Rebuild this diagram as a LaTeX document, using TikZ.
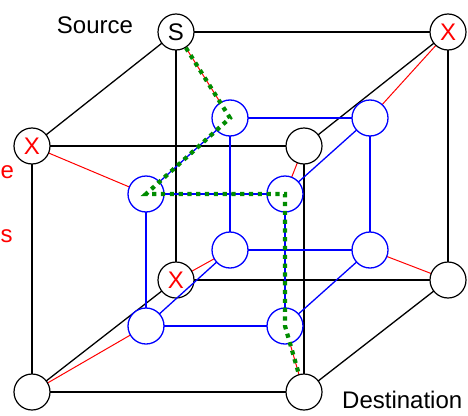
\documentclass[tikz,border=0pt]{standalone}
\usepackage{fontspec}
\setmainfont{Liberation Sans}
\definecolor{pathgreen}{RGB}{0,140,0}
\definecolor{linkred}{RGB}{255,0,0}
\definecolor{meshblue}{RGB}{0,0,255}
\begin{document}
\begin{tikzpicture}[x=1pt,y=-1pt,
  every node/.style={font=\fontsize{24}{28}\selectfont},
  outer/.style={circle,draw=black,line width=1.2pt,fill=white,minimum size=36pt,inner sep=0pt},
  inner/.style={circle,draw=meshblue,line width=1.3pt,fill=white,minimum size=36pt,inner sep=0pt},
  failed/.style={outer,text=linkred},
  cubeedge/.style={draw=black,line width=1.3pt},
  meshedge/.style={draw=meshblue,line width=1.3pt},
  link/.style={draw=linkred,line width=1pt},
  route/.style={draw=pathgreen,line width=4.2pt,dash pattern=on 4.2pt off 4.6pt}
]
\clip (0,0) rectangle (468,415);
\useasboundingbox (0,0) rectangle (468,415);

% corner positions of the two cubes
\coordinate (pA) at (176,32);
\coordinate (pB) at (448,32);
\coordinate (pC) at (32,146);
\coordinate (pD) at (304,146);
\coordinate (pE) at (176,280);
\coordinate (pF) at (448,280);
\coordinate (pG) at (32,392);
\coordinate (pH) at (304,392);
\coordinate (qa) at (230,118);
\coordinate (qb) at (370,118);
\coordinate (qc) at (146,194);
\coordinate (qd) at (285,194);
\coordinate (qe) at (230,250);
\coordinate (qf) at (370,250);
\coordinate (qg) at (146,326);
\coordinate (qh) at (285,326);

% outer cube edges
\draw[cubeedge] (pA) -- (pB) -- (pF) -- (pE) -- cycle;
\draw[cubeedge] (pC) -- (pD) -- (pH) -- (pG) -- cycle;
\draw[cubeedge] (pA) -- (pC);
\draw[cubeedge] (pB) -- (pD);
\draw[cubeedge] (pE) -- (pG);
\draw[cubeedge] (pF) -- (pH);

% links between outer and inner cube
\draw[link] (pA) -- (qa);
\draw[link] (pB) -- (qb);
\draw[link] (pC) -- (qc);
\draw[link] (pD) -- (qd);
\draw[link] (pE) -- (qe);
\draw[link] (pF) -- (qf);
\draw[link] (pG) -- (qg);
\draw[link] (pH) -- (qh);

% outer nodes
\node[outer]  (A) at (pA) {S};
\node[failed] (B) at (pB) {X};
\node[failed] (C) at (pC) {X};
\node[outer]  (D) at (pD) {};
\node[failed] (E) at (pE) {X};
\node[outer]  (F) at (pF) {};
\node[outer]  (G) at (pG) {};
\node[outer]  (H) at (pH) {};

% inner cube edges
\draw[meshedge] (qa) -- (qb) -- (qf) -- (qe) -- cycle;
\draw[meshedge] (qc) -- (qd) -- (qh) -- (qg) -- cycle;
\draw[meshedge] (qa) -- (qc);
\draw[meshedge] (qb) -- (qd);
\draw[meshedge] (qe) -- (qg);
\draw[meshedge] (qf) -- (qh);

% inner nodes
\node[inner] (a) at (qa) {};
\node[inner] (b) at (qb) {};
\node[inner] (c) at (qc) {};
\node[inner] (d) at (qd) {};
\node[inner] (e) at (qe) {};
\node[inner] (f) at (qf) {};
\node[inner] (g) at (qg) {};
\node[inner] (h) at (qh) {};

% route from source to destination
\draw[route] (A) -- (a.center) -- (c.center) -- (d.center) -- (h.center) -- (H);

% labels
\node[anchor=base, inner sep=0pt] (src) at (95,33) {Source};
\node[anchor=base west, inner sep=0pt] (dst) at (342,408) {Destination};
\node[anchor=base west, inner sep=0pt, text=linkred] (lbl1) at (0.5,178) {e};
\node[anchor=base west, inner sep=0pt, text=linkred] (lbl2) at (0.5,242) {s};
\end{tikzpicture}
\end{document}
